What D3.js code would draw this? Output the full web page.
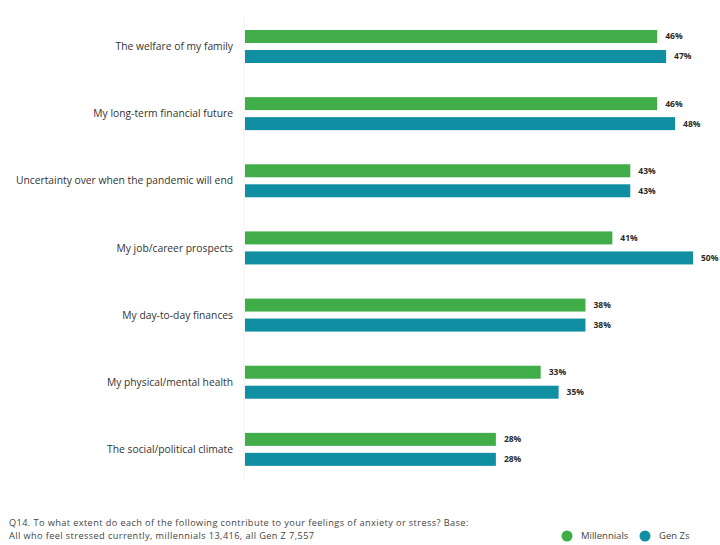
<!DOCTYPE html>
<html>
<head>
<meta charset="utf-8">
<script src="https://cdn.jsdelivr.net/npm/d3@7/dist/d3.min.js"></script>
<style>
  html, body { margin: 0; padding: 0; background: #fff; }
  svg { display: block; }
</style>
</head>
<body>
<svg id="chart" width="720" height="545"></svg>
<script>
// Sources of anxiety or stress, millennials vs Gen Zs (% of those who feel stressed)
const categories = [
  "The welfare of my family",
  "My long-term financial future",
  "Uncertainty over when the pandemic will end",
  "My job/career prospects",
  "My day-to-day finances",
  "My physical/mental health",
  "The social/political climate"
];
const seriesNames = ["Millennials", "Gen Zs"];
const millennials = [46, 46, 43, 41, 38, 33, 28];
const genZs = [47, 48, 43, 50, 38, 35, 28];

const colors = { "Millennials": "#41ad49", "Gen Zs": "#0f8fa1" };

const svg = d3.select("#chart");
const font = "'Open Sans', 'Noto Sans', sans-serif";

const x = d3.scaleLinear().domain([0, 50]).range([245, 693]);
const y = d3.scaleBand().domain(categories).range([23, 493]).paddingInner(0).paddingOuter(0);
const sub = d3.scaleBand().domain(seriesNames).range([7, 40]).paddingInner(0.35).paddingOuter(0);

// faint baseline at zero
svg.append("line")
  .attr("x1", x(0) - 1).attr("x2", x(0) - 1)
  .attr("y1", 18).attr("y2", 478)
  .attr("stroke", "#f0f0f0").attr("stroke-width", 1);

const rows = categories.map((c, i) => ({
  cat: c,
  values: [
    { name: "Millennials", v: millennials[i] },
    { name: "Gen Zs", v: genZs[i] }
  ]
}));

const g = svg.selectAll("g.row").data(rows).join("g")
  .attr("class", "row")
  .attr("transform", d => `translate(0,${y(d.cat)})`);

g.selectAll("rect").data(d => d.values).join("rect")
  .attr("x", x(0))
  .attr("y", d => sub(d.name))
  .attr("width", d => x(d.v) - x(0))
  .attr("height", sub.bandwidth())
  .attr("fill", d => colors[d.name]);

g.selectAll("text.val").data(d => d.values).join("text")
  .attr("class", "val")
  .attr("x", d => x(d.v) + 8)
  .attr("y", d => sub(d.name) + sub.bandwidth() / 2)
  .attr("dy", "0.35em")
  .attr("font-family", font)
  .attr("font-size", 8.5)
  .attr("font-weight", 700)
  .attr("fill", "#2b2b2b")
  .text(d => d.v + "%");

g.append("text")
  .attr("x", 233)
  .attr("y", (sub("Millennials") + sub("Gen Zs") + sub.bandwidth()) / 2)
  .attr("dy", "0.35em")
  .attr("text-anchor", "end")
  .attr("font-family", font)
  .attr("font-size", 10.3)
  .attr("fill", "#333")
  .text(d => d.cat);

// footnote
const foot = [
  "Q14. To what extent do each of the following contribute to your feelings of anxiety or stress? Base:",
  "All who feel stressed currently, millennials 13,416, all Gen Z 7,557"
];
svg.selectAll("text.foot").data(foot).join("text")
  .attr("class", "foot")
  .attr("x", 9)
  .attr("y", (d, i) => 523 + i * 13)
  .attr("dy", "0.35em")
  .attr("font-family", font)
  .attr("font-size", 9.2)
  .attr("letter-spacing", 0.4)
  .attr("fill", "#444")
  .text(d => d);

// legend
const legX = [567, 645];
const leg = svg.selectAll("g.leg").data(seriesNames).join("g")
  .attr("class", "leg")
  .attr("transform", (d, i) => `translate(${legX[i]},536)`);
leg.append("circle").attr("r", 5.5).attr("fill", d => colors[d]);
leg.append("text")
  .attr("x", 14)
  .attr("dy", "0.35em")
  .attr("font-family", font)
  .attr("font-size", 9.5)
  .attr("fill", "#444")
  .text(d => d);
</script>
</body>
</html>
